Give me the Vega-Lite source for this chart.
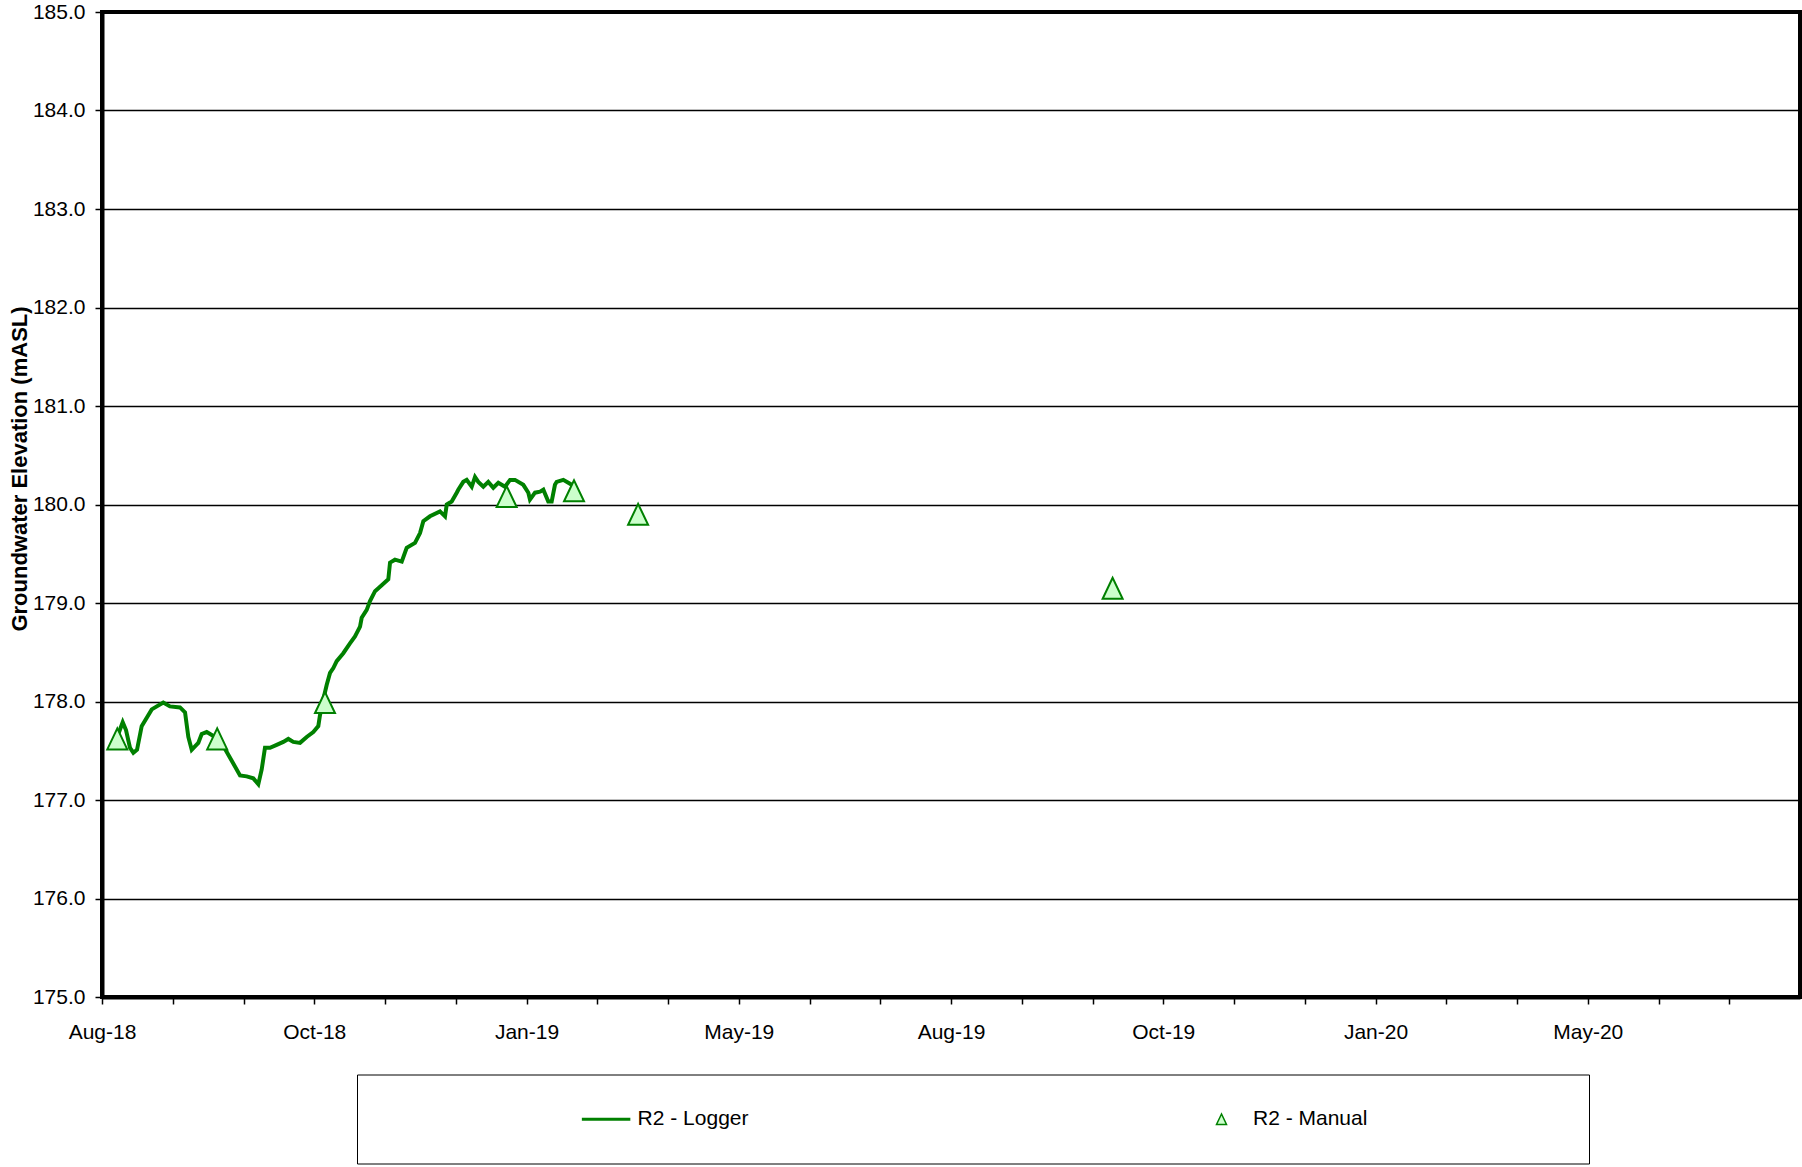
{
  "$schema": "https://vega.github.io/schema/vega-lite/v6.json",
  "width": 1698,
  "height": 985,
  "autosize": {"type": "none"},
  "padding": {"left": 102, "top": 12, "right": 2, "bottom": 170},
  "background": "white",
  "config": {
    "font": "Liberation Sans",
    "view": {"stroke": "black", "strokeWidth": 4}
  },
  "datasets": {
    "logger": [
      {"date": "2018-08-07T21:00:00Z", "elev": 177.66},
      {"date": "2018-08-09T22:00:00Z", "elev": 177.79},
      {"date": "2018-08-11T08:00:00Z", "elev": 177.71},
      {"date": "2018-08-13T01:00:00Z", "elev": 177.53},
      {"date": "2018-08-14T12:00:00Z", "elev": 177.48},
      {"date": "2018-08-16T02:00:00Z", "elev": 177.51},
      {"date": "2018-08-18T02:00:00Z", "elev": 177.75},
      {"date": "2018-08-22T10:00:00Z", "elev": 177.92},
      {"date": "2018-08-27T09:00:00Z", "elev": 177.99},
      {"date": "2018-08-30T06:00:00Z", "elev": 177.95},
      {"date": "2018-09-03T14:00:00Z", "elev": 177.94},
      {"date": "2018-09-05T18:00:00Z", "elev": 177.89},
      {"date": "2018-09-07T04:00:00Z", "elev": 177.64},
      {"date": "2018-09-08T15:00:00Z", "elev": 177.51},
      {"date": "2018-09-11T11:00:00Z", "elev": 177.58},
      {"date": "2018-09-12T22:00:00Z", "elev": 177.67},
      {"date": "2018-09-15T02:00:00Z", "elev": 177.69},
      {"date": "2018-09-17T06:00:00Z", "elev": 177.66},
      {"date": "2018-09-20T19:00:00Z", "elev": 177.61},
      {"date": "2018-09-24T09:00:00Z", "elev": 177.46},
      {"date": "2018-09-29T10:00:00Z", "elev": 177.25},
      {"date": "2018-10-02T07:00:00Z", "elev": 177.24},
      {"date": "2018-10-05T03:00:00Z", "elev": 177.22},
      {"date": "2018-10-07T07:00:00Z", "elev": 177.16},
      {"date": "2018-10-08T18:00:00Z", "elev": 177.31},
      {"date": "2018-10-10T04:00:00Z", "elev": 177.53},
      {"date": "2018-10-12T08:00:00Z", "elev": 177.53},
      {"date": "2018-10-15T05:00:00Z", "elev": 177.56},
      {"date": "2018-10-18T01:00:00Z", "elev": 177.59},
      {"date": "2018-10-20T05:00:00Z", "elev": 177.62},
      {"date": "2018-10-22T09:00:00Z", "elev": 177.59},
      {"date": "2018-10-25T06:00:00Z", "elev": 177.58},
      {"date": "2018-10-28T03:00:00Z", "elev": 177.64},
      {"date": "2018-10-30T23:00:00Z", "elev": 177.69},
      {"date": "2018-11-02T03:00:00Z", "elev": 177.75},
      {"date": "2018-11-02T20:00:00Z", "elev": 177.86},
      {"date": "2018-11-04T06:00:00Z", "elev": 178.02},
      {"date": "2018-11-05T18:00:00Z", "elev": 178.17},
      {"date": "2018-11-07T04:00:00Z", "elev": 178.29},
      {"date": "2018-11-08T14:00:00Z", "elev": 178.34},
      {"date": "2018-11-10T01:00:00Z", "elev": 178.41},
      {"date": "2018-11-12T21:00:00Z", "elev": 178.49},
      {"date": "2018-11-15T18:00:00Z", "elev": 178.59},
      {"date": "2018-11-17T22:00:00Z", "elev": 178.66},
      {"date": "2018-11-20T02:00:00Z", "elev": 178.76},
      {"date": "2018-11-20T19:00:00Z", "elev": 178.85},
      {"date": "2018-11-22T23:00:00Z", "elev": 178.93},
      {"date": "2018-11-24T09:00:00Z", "elev": 179.02},
      {"date": "2018-11-26T13:00:00Z", "elev": 179.12},
      {"date": "2018-11-29T10:00:00Z", "elev": 179.18},
      {"date": "2018-12-02T06:00:00Z", "elev": 179.24},
      {"date": "2018-12-03T00:00:00Z", "elev": 179.41},
      {"date": "2018-12-05T03:00:00Z", "elev": 179.44},
      {"date": "2018-12-08T01:00:00Z", "elev": 179.42},
      {"date": "2018-12-10T04:00:00Z", "elev": 179.56},
      {"date": "2018-12-13T18:00:00Z", "elev": 179.61},
      {"date": "2018-12-15T22:00:00Z", "elev": 179.71},
      {"date": "2018-12-17T08:00:00Z", "elev": 179.83},
      {"date": "2018-12-20T05:00:00Z", "elev": 179.88},
      {"date": "2018-12-24T12:00:00Z", "elev": 179.93},
      {"date": "2018-12-26T16:00:00Z", "elev": 179.88},
      {"date": "2018-12-27T10:00:00Z", "elev": 180.0},
      {"date": "2018-12-29T13:00:00Z", "elev": 180.03},
      {"date": "2018-12-31T17:00:00Z", "elev": 180.12},
      {"date": "2019-01-01T09:00:00Z", "elev": 180.15},
      {"date": "2019-01-03T13:00:00Z", "elev": 180.23},
      {"date": "2019-01-05T00:00:00Z", "elev": 180.25},
      {"date": "2019-01-07T04:00:00Z", "elev": 180.18},
      {"date": "2019-01-08T14:00:00Z", "elev": 180.28},
      {"date": "2019-01-10T00:00:00Z", "elev": 180.23},
      {"date": "2019-01-12T04:00:00Z", "elev": 180.18},
      {"date": "2019-01-14T07:00:00Z", "elev": 180.23},
      {"date": "2019-01-16T11:00:00Z", "elev": 180.17},
      {"date": "2019-01-18T15:00:00Z", "elev": 180.22},
      {"date": "2019-01-21T12:00:00Z", "elev": 180.18},
      {"date": "2019-01-23T16:00:00Z", "elev": 180.25},
      {"date": "2019-01-25T19:00:00Z", "elev": 180.25},
      {"date": "2019-01-29T09:00:00Z", "elev": 180.2},
      {"date": "2019-01-31T13:00:00Z", "elev": 180.12},
      {"date": "2019-02-01T06:00:00Z", "elev": 180.05},
      {"date": "2019-02-03T10:00:00Z", "elev": 180.12},
      {"date": "2019-02-05T14:00:00Z", "elev": 180.13},
      {"date": "2019-02-07T00:00:00Z", "elev": 180.15},
      {"date": "2019-02-09T03:00:00Z", "elev": 180.03},
      {"date": "2019-02-10T14:00:00Z", "elev": 180.03},
      {"date": "2019-02-12T00:00:00Z", "elev": 180.2},
      {"date": "2019-02-12T18:00:00Z", "elev": 180.23},
      {"date": "2019-02-15T14:00:00Z", "elev": 180.25},
      {"date": "2019-02-17T18:00:00Z", "elev": 180.22},
      {"date": "2019-02-19T05:00:00Z", "elev": 180.2}
    ],
    "manual": [
      {"date": "2018-08-07T14:00:00Z", "elev": 177.62, "series": "R2 - Manual"},
      {"date": "2018-09-19T14:00:00Z", "elev": 177.62, "series": "R2 - Manual"},
      {"date": "2018-11-05T00:00:00Z", "elev": 177.99, "series": "R2 - Manual"},
      {"date": "2019-01-22T05:00:00Z", "elev": 180.08, "series": "R2 - Manual"},
      {"date": "2019-02-20T05:00:00Z", "elev": 180.14, "series": "R2 - Manual"},
      {"date": "2019-03-19T19:00:00Z", "elev": 179.9, "series": "R2 - Manual"},
      {"date": "2019-10-10T02:00:00Z", "elev": 179.15, "series": "R2 - Manual"}
    ]
  },
  "layer": [
    {
      "data": {"name": "logger"},
      "mark": {"type": "line", "color": "#008000", "strokeWidth": 4},
      "encoding": {
        "x": {
          "field": "date",
          "type": "temporal",
          "scale": {"type": "utc", "domain": [1533081600000, 1596240000000], "nice": false},
          "axis": {
            "values": [1533081600000, 1535713200000, 1538344800000, 1540976400000, 1543608000000, 1546239600000, 1548871200000, 1551502800000, 1554134400000, 1556766000000, 1559397600000, 1562029200000, 1564660800000, 1567292400000, 1569924000000, 1572555600000, 1575187200000, 1577818800000, 1580450400000, 1583082000000, 1585713600000, 1588345200000, 1590976800000, 1593608400000],
            "format": "%b-%y",
            "labelExpr": "abs((+datum.value - 1533081600000) % 7894800000) < 1000 ? datum.label : ''",
            "title": null,
            "grid": false,
            "domainColor": "black",
            "domainWidth": 4,
            "tickColor": "black",
            "tickWidth": 1.5,
            "tickSize": 7,
            "labelFontSize": 21,
            "labelColor": "black",
            "labelPadding": 17,
            "labelOverlap": false,
            "labelFlush": false,
            "labelBound": false,
            "encode": {
              "ticks": {
                "update": {
                  "y": {"signal": "abs((+datum.value - 1533081600000) % 7894800000) < 1000 ? -5 : 0"},
                  "y2": {"signal": "abs((+datum.value - 1533081600000) % 7894800000) < 1000 ? 7 : 6"}
                }
              }
            }
          }
        },
        "y": {
          "field": "elev",
          "type": "quantitative",
          "scale": {"domain": [175, 185], "nice": false, "zero": false},
          "axis": {
            "values": [175, 176, 177, 178, 179, 180, 181, 182, 183, 184, 185],
            "format": ".1f",
            "title": "Groundwater Elevation (mASL)",
            "titleFontSize": 22,
            "titleFontWeight": "bold",
            "titleColor": "black",
            "titleAngle": 270,
            "titleAlign": "center",
            "titleBaseline": "middle",
            "titleX": -83,
            "titleY": 456.5,
            "grid": true,
            "gridColor": "black",
            "gridWidth": 1.6,
            "domainColor": "black",
            "domainWidth": 4,
            "tickColor": "black",
            "tickWidth": 1.5,
            "tickSize": 7,
            "labelFontSize": 21,
            "labelColor": "black",
            "labelPadding": 10,
            "labelOverlap": false,
            "labelFlush": false
          }
        }
      }
    },
    {
      "data": {"name": "manual"},
      "mark": {"type": "point", "filled": true, "fill": "#ccffcc", "stroke": "#008000", "strokeWidth": 2, "size": 400, "opacity": 1},
      "encoding": {
        "x": {"field": "date", "type": "temporal"},
        "y": {"field": "elev", "type": "quantitative"},
        "shape": {
          "field": "series",
          "type": "nominal",
          "scale": {"domain": ["R2 - Logger", "R2 - Manual"], "range": ["M-4.7,-0.16L4.7,-0.16L4.7,0.16L-4.7,0.16Z", "M0,-1.05L-1,1.05L1,1.05ZM66,0"]},
          "legend": {
            "title": null,
            "orient": "none",
            "legendX": 255,
            "legendY": 1062.5,
            "direction": "horizontal",
            "columns": 2,
            "strokeColor": "black",
            "padding": 34,
            "symbolSize": 100,
            "symbolOffset": 204.6,
            "labelOffset": 21,
            "columnPadding": 257.4,
            "labelFontSize": 21,
            "labelColor": "black",
            "labelLimit": 400,
            "encode": {
              "legend": {
                "strokeWidth": {"value": 1.5}
              },
              "symbols": {
                "stroke": {"value": "#008000"},
                "strokeWidth": {"value": 2},
                "fill": {"value": "#ccffcc"},
                "opacity": {"value": 1}
              }
            }
          }
        }
      }
    }
  ]
}
